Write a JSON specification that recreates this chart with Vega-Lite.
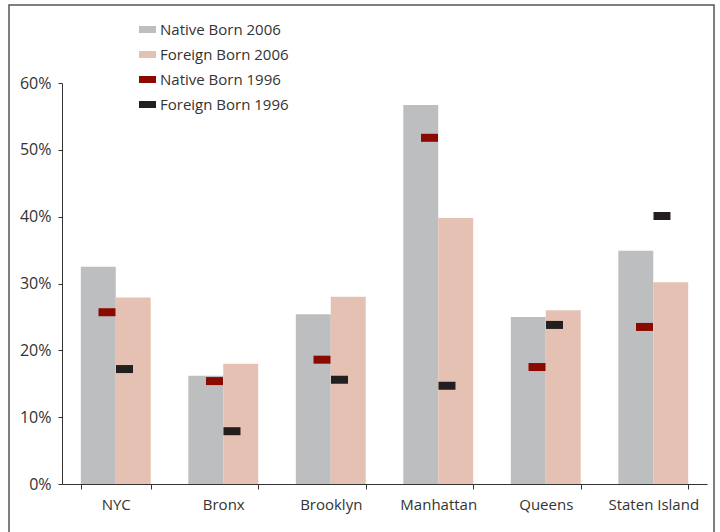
{
  "$schema": "https://vega.github.io/schema/vega-lite/v6.json",
  "width": 705,
  "height": 540,
  "padding": {"left": 9, "top": 5, "right": 6, "bottom": 0},
  "config": {
    "view": {"stroke": "#555555", "strokeWidth": 1.5},
    "font": "Open Sans",
    "axis": {"labelFont": "Open Sans", "labelFontSize": 15, "labelColor": "#333333", "domainColor": "#333333", "tickColor": "#333333", "grid": false, "title": null}
  },
  "data": {
    "values": [
      {"borough": "NYC", "series": "Native Born 2006", "value": 0.325},
      {"borough": "NYC", "series": "Foreign Born 2006", "value": 0.279},
      {"borough": "NYC", "series": "Native Born 1996", "value": 0.257},
      {"borough": "NYC", "series": "Foreign Born 1996", "value": 0.172},
      {"borough": "Bronx", "series": "Native Born 2006", "value": 0.162},
      {"borough": "Bronx", "series": "Foreign Born 2006", "value": 0.180},
      {"borough": "Bronx", "series": "Native Born 1996", "value": 0.154},
      {"borough": "Bronx", "series": "Foreign Born 1996", "value": 0.079},
      {"borough": "Brooklyn", "series": "Native Born 2006", "value": 0.254},
      {"borough": "Brooklyn", "series": "Foreign Born 2006", "value": 0.280},
      {"borough": "Brooklyn", "series": "Native Born 1996", "value": 0.186},
      {"borough": "Brooklyn", "series": "Foreign Born 1996", "value": 0.156},
      {"borough": "Manhattan", "series": "Native Born 2006", "value": 0.567},
      {"borough": "Manhattan", "series": "Foreign Born 2006", "value": 0.398},
      {"borough": "Manhattan", "series": "Native Born 1996", "value": 0.518},
      {"borough": "Manhattan", "series": "Foreign Born 1996", "value": 0.147},
      {"borough": "Queens", "series": "Native Born 2006", "value": 0.250},
      {"borough": "Queens", "series": "Foreign Born 2006", "value": 0.260},
      {"borough": "Queens", "series": "Native Born 1996", "value": 0.175},
      {"borough": "Queens", "series": "Foreign Born 1996", "value": 0.238},
      {"borough": "Staten Island", "series": "Native Born 2006", "value": 0.349},
      {"borough": "Staten Island", "series": "Foreign Born 2006", "value": 0.302},
      {"borough": "Staten Island", "series": "Native Born 1996", "value": 0.235},
      {"borough": "Staten Island", "series": "Foreign Born 1996", "value": 0.401}
    ]
  },
  "encoding": {
    "x": {
      "field": "borough", "type": "nominal",
      "sort": ["NYC", "Bronx", "Brooklyn", "Manhattan", "Queens", "Staten Island"],
      "scale": {"range": [53, 698], "paddingInner": 0.35, "paddingOuter": 0.175},
      "axis": {"labelAngle": 0, "tickBand": "extent", "tickSize": 5, "labelPadding": 8, "offset": -61, "domainWidth": 1}
    },
    "y": {
      "field": "value", "type": "quantitative",
      "scale": {"domain": [0, 0.6], "range": [479, 78], "nice": false, "zero": true},
      "axis": {"format": ".0%", "values": [0, 0.1, 0.2, 0.3, 0.4, 0.5, 0.6], "tickSize": 4, "labelPadding": 7, "offset": -53, "labelFontSize": 16}
    }
  },
  "layer": [
    {
      "transform": [{"filter": "indexof(datum.series, '2006') >= 0"}],
      "mark": {"type": "bar"},
      "encoding": {
        "xOffset": {"field": "series", "type": "nominal", "scale": {"domain": ["Native Born 2006", "Foreign Born 2006"], "paddingInner": 0, "paddingOuter": 0}},
        "color": {
          "field": "series", "type": "nominal",
          "scale": {"domain": ["Native Born 2006", "Foreign Born 2006", "Native Born 1996", "Foreign Born 1996"], "range": ["#BCBEC0", "#E4C1B2", "#8B0A00", "#231F20"]},
          "legend": {
            "title": null, "orient": "none", "legendX": 130, "legendY": 16,
            "symbolType": "M-1,-0.41H1V0.41H-1Z", "symbolSize": 289, "symbolStrokeWidth": 0,
            "labelFont": "Open Sans", "labelFontSize": 15, "labelColor": "#333333", "labelOffset": 4,
            "rowPadding": 8, "padding": 0
          }
        }
      }
    },
    {
      "transform": [{"filter": "indexof(datum.series, '1996') >= 0"}],
      "mark": {"type": "tick", "size": 17, "thickness": 8, "opacity": 1, "orient": "horizontal"},
      "encoding": {
        "xOffset": {"field": "series", "type": "nominal", "scale": {"domain": ["p1", "Native Born 1996", "Foreign Born 1996", "p2"], "paddingInner": 0, "paddingOuter": 0}},
        "color": {"field": "series", "type": "nominal"}
      }
    }
  ],
  "resolve": {"scale": {"xOffset": "independent"}}
}
